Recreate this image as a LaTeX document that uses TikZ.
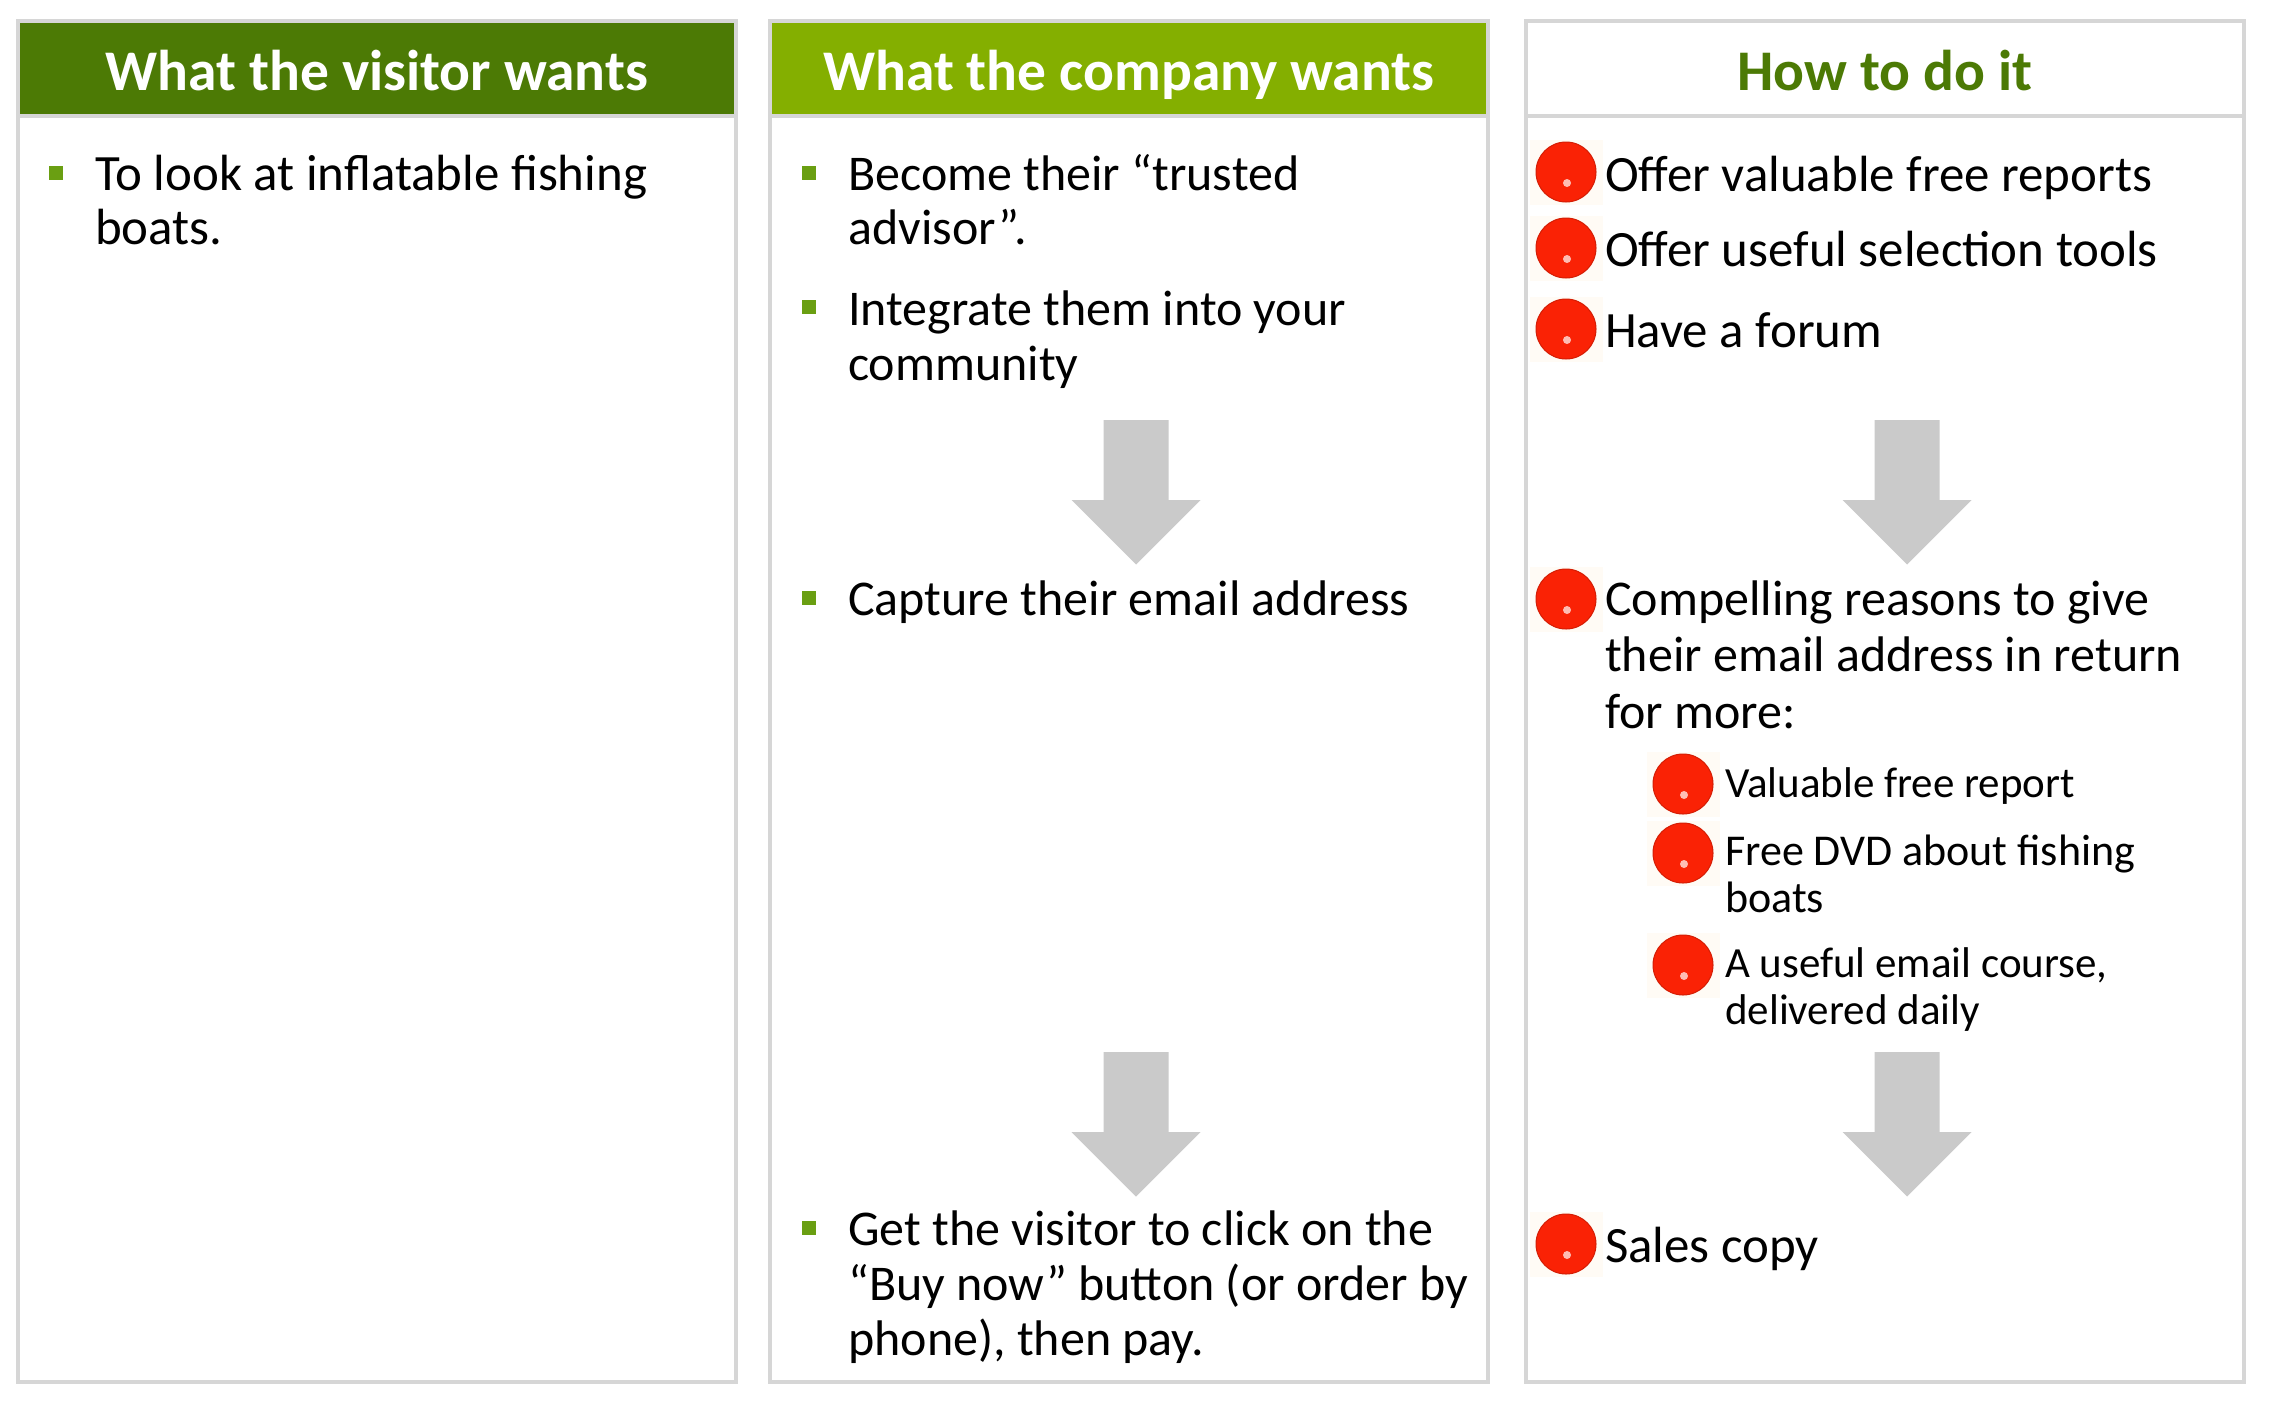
\documentclass[tikz,border=0pt]{standalone}
\usepackage{fontspec}
\setmainfont{Carlito}
\definecolor{darkgreen}{HTML}{4C7A05}
\definecolor{lightgreen}{HTML}{84AF00}
\definecolor{bulletgreen}{HTML}{6A9F12}
\definecolor{panelline}{HTML}{D6D6D6}
\definecolor{arrowgray}{HTML}{CACACA}
\definecolor{ballred}{HTML}{FA2205}
\definecolor{ballcream}{HTML}{FFFBF5}
\tikzset{
  panel/.style={draw=panelline,line width=3.5pt,fill=white,inner sep=0pt,anchor=north west,minimum width=718pt,minimum height=1361pt},
  headbox/.style={draw=panelline,line width=3.5pt,inner sep=0pt,anchor=north west,minimum width=718pt,minimum height=95pt,font=\fontsize{57.5}{60}\selectfont\bfseries,text height=44pt,text depth=0pt},
  body/.style={anchor=base west,inner sep=0pt,align=left,font=\fontsize{50.9}{55}\selectfont,text=black},
  bodyb/.style={anchor=base west,inner sep=0pt,align=left,font=\fontsize{50}{55}\selectfont,text=black},
  small/.style={anchor=base west,inner sep=0pt,align=left,font=\fontsize{43}{47}\selectfont,text=black},
  squarebullet/.style={fill=bulletgreen,minimum size=14pt,inner sep=0pt},
  ball/.style={circle,fill=ballred,draw=ballred!85!black,line width=1pt,minimum size=60pt,inner sep=0pt},
  ballbg/.style={fill=ballcream,minimum width=73pt,minimum height=65pt,inner sep=0pt},
  glint/.style={circle,fill=white!70!ballred,minimum size=8pt,inner sep=0pt},
  bigarrow/.style={fill=arrowgray,draw=none},
}
\newcommand{\redball}[3]{%
  \node[ballbg] (#1bg) at (#2,#3) {};
  \node[ball] (#1) at (#2,#3) {};
  \node[glint] (#1g) at (#2+1,#3+11) {};
}
\newcommand{\flowarrow}[3]{%
  \coordinate (#1) at (#2,#3);
  \fill[bigarrow] ([xshift=-32.5pt,yshift=0pt]#1) -- ([xshift=32.5pt]#1) -- ([xshift=32.5pt,yshift=-80pt]#1) -- ([xshift=64.5pt,yshift=-80pt]#1) -- ([yshift=-144.5pt]#1) -- ([xshift=-64.5pt,yshift=-80pt]#1) -- ([xshift=-32.5pt,yshift=-80pt]#1) -- cycle;
}
\begin{document}
\begin{tikzpicture}[x=1pt,y=-1pt]
\useasboundingbox (0,0) rectangle (2269,1403);
\fill[white] (0,0) rectangle (2269,1403);
% panels
\node[panel] (p1) at (16,19) {};
\node[panel] (p2) at (768,19) {};
\node[panel] (p3) at (1524,19) {};
\node[headbox,fill=darkgreen,text=white] (h1) at (16,19) {What the visitor wants};
\node[headbox,fill=lightgreen,text=white] (h2) at (768,19) {What the company wants};
\node[headbox,fill=white,text=darkgreen] (h3) at (1524,19) {How to do it};
% column 1
\node[squarebullet] (s1) at (56,173) {};
\node[body,font=\fontsize{50.9}{54}\selectfont] (t1) at (95,244) {To look at inflatable fishing\\boats.};
% column 2
\node[squarebullet] (s2) at (809,173) {};
\node[bodyb,font=\fontsize{50}{54}\selectfont] (t2) at (848,244) {Become their “trusted\\advisor”.};
\node[squarebullet] (s3) at (809,307) {};
\node[bodyb] (t3) at (848,380) {Integrate them into your\\community};
\node[squarebullet] (s4) at (809,598) {};
\node[bodyb] (t4) at (848,615) {Capture their email address};
\node[squarebullet] (s5) at (809,1228) {};
\node[bodyb] (t5) at (848,1355) {Get the visitor to click on the\\“Buy now” button (or order by\\phone), then pay.};
\flowarrow{a1}{1136}{420}
\flowarrow{a2}{1136}{1052}
% column 3
\redball{b1}{1566}{172}
\node[body] (u1) at (1605,191) {Offer valuable free reports};
\redball{b2}{1566}{248}
\node[body] (u2) at (1605,266) {Offer useful selection tools};
\redball{b3}{1566}{329}
\node[body] (u3) at (1605,347) {Have a forum};
\redball{b4}{1566}{599}
\node[bodyb,font=\fontsize{50}{56.5}\selectfont] (u4) at (1605,728) {Compelling reasons to give\\their email address in return\\for more:};
\redball{b5}{1683}{784}
\node[small] (u5) at (1725,797) {Valuable free report};
\redball{b6}{1683}{853}
\node[small,font=\fontsize{44}{47}\selectfont] (u6) at (1725,912) {Free DVD about fishing\\boats};
\redball{b7}{1683}{965}
\node[small] (u7) at (1725,1024) {A useful email course,\\delivered daily};
\redball{b8}{1566}{1244}
\node[body] (u8) at (1605,1262) {Sales copy};
\flowarrow{a3}{1907}{420}
\flowarrow{a4}{1907}{1052}
\end{tikzpicture}
\end{document}
